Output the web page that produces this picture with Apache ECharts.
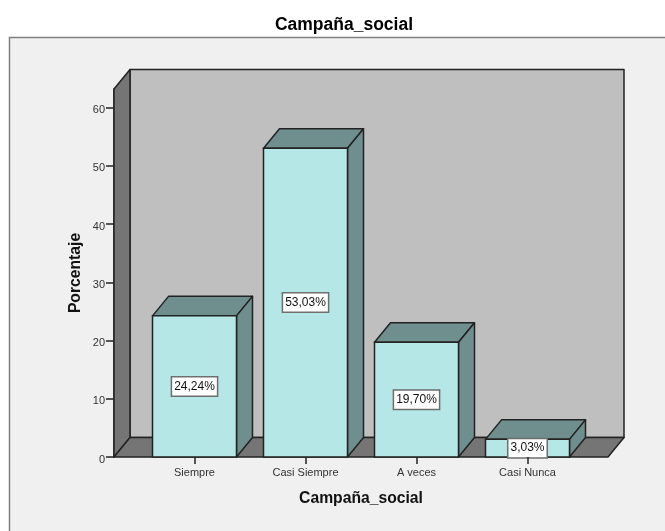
<!DOCTYPE html>
<html>
<head>
<meta charset="utf-8">
<style>html,body{margin:0;padding:0;background:#fff}#chart{width:665px;height:531px}</style>
<script src="https://cdn.jsdelivr.net/npm/echarts@6/dist/echarts.min.js"></script>
</head>
<body>
<div id="chart"></div>
<script>
// Bar chart of "Campaña_social" responses, drawn with a box-style depth effect.
const categories = ['Siempre', 'Casi Siempre', 'A veces', 'Casi Nunca'];
const percentages = [24.24, 53.03, 19.70, 3.03];
const valueTicks = [0, 10, 20, 30, 40, 50, 60];
const chartTitle = 'Campaña_social';
const valueAxisName = 'Porcentaje';

const DEPTH_X = 16, DEPTH_Y = 19.5;
const OVERHANG = 25;       // floor extends past the outer category bands
const BAR_WIDTH = 84;
const INK = '#222222';
const AXIS_MAX = 63.2;
const FONT = '"Liberation Sans", Arial, sans-serif';

const chart = echarts.init(document.getElementById('chart'), null, { renderer: 'canvas' });

const stroke = { stroke: INK, lineWidth: 1.5, lineJoin: 'round' };

function poly(points, fill) {
  return { type: 'polygon', shape: { points }, style: Object.assign({ fill }, stroke) };
}

// Back wall, side wall and floor of the plot box, sized from the grid rectangle.
function renderRoom(params, api) {
  const c = params.coordSys;
  const l = c.x - OVERHANG, r = c.x + c.width + OVERHANG, t = c.y, b = c.y + c.height;
  return {
    type: 'group',
    children: [
      poly([[l + DEPTH_X, t - DEPTH_Y], [r + DEPTH_X, t - DEPTH_Y], [r + DEPTH_X, b - DEPTH_Y], [l + DEPTH_X, b - DEPTH_Y]], '#bfbfbf'),
      poly([[l, t], [l + DEPTH_X, t - DEPTH_Y], [l + DEPTH_X, b - DEPTH_Y], [l, b]], '#757575'),
      poly([[l, b], [l + DEPTH_X, b - DEPTH_Y], [r + DEPTH_X, b - DEPTH_Y], [r, b]], '#757575')
    ]
  };
}

// One bar: front face, top face, side face, and its boxed percentage label.
function renderBar(params, api) {
  const top = api.coord([api.value(0), api.value(1)]);
  const base = api.coord([api.value(0), 0]);
  const x0 = top[0] - BAR_WIDTH / 2, x1 = top[0] + BAR_WIDTH / 2;
  const yT = top[1], yB = base[1];
  const text = api.value(1).toFixed(2).replace('.', ',') + '%';
  return {
    type: 'group',
    children: [
      poly([[x0, yT], [x0 + DEPTH_X, yT - DEPTH_Y], [x1 + DEPTH_X, yT - DEPTH_Y], [x1, yT]], '#6f8e8e'),
      poly([[x1, yT], [x1 + DEPTH_X, yT - DEPTH_Y], [x1 + DEPTH_X, yB - DEPTH_Y], [x1, yB]], '#6f8e8e'),
      { type: 'rect', shape: { x: x0, y: yT, width: BAR_WIDTH, height: yB - yT },
        style: { fill: '#b5e7e7', stroke: INK, lineWidth: 1.5 } },
      { type: 'text', x: top[0], y: (yT + yB) / 2,
        style: { text, fill: '#111', font: '12px ' + FONT,
          align: 'center', verticalAlign: 'middle',
          backgroundColor: '#ffffff', borderColor: '#6e6e6e', borderWidth: 1.5,
          padding: [3, 2, 3, 2] } }
    ]
  };
}

chart.setOption({
  animation: false,
  backgroundColor: '#ffffff',
  title: {
    text: chartTitle, left: 339, top: 11, textAlign: 'center',
    textStyle: { fontFamily: FONT, fontSize: 17.5, fontWeight: 'bold', color: '#000' }
  },
  graphic: [{
    type: 'rect', z: -10, silent: true,
    shape: { x: 9.5, y: 37.5, width: 670, height: 510 },
    style: { fill: '#f0f0f0', stroke: '#7f7f7f', lineWidth: 1.5 }
  }],
  grid: { left: 139, top: 89, width: 444, height: 368 },
  xAxis: {
    type: 'category', data: categories,
    name: chartTitle, nameLocation: 'middle', nameGap: 34, nameMoveOverlap: false,
    nameTextStyle: { fontFamily: FONT, fontSize: 15.7, fontWeight: 'bold', color: '#111' },
    axisTick: { show: true, alignWithLabel: true, length: 7, lineStyle: { color: INK, width: 1.5 } },
    axisLine: { show: false },
    axisLabel: { fontFamily: FONT, fontSize: 11, color: '#333', margin: 10 },
    z: 5
  },
  yAxis: {
    type: 'value', min: 0, max: AXIS_MAX, interval: 10, offset: OVERHANG,
    name: valueAxisName, nameLocation: 'middle', nameGap: 30, nameRotate: 90, nameMoveOverlap: false,
    nameTextStyle: { fontFamily: FONT, fontSize: 15.7, fontWeight: 'bold', color: '#111' },
    axisLine: { show: true, onZero: false, lineStyle: { color: INK, width: 1.5 } },
    axisTick: { show: true, length: 8, lineStyle: { color: INK, width: 1.5 } },
    axisLabel: {
      fontFamily: FONT, fontSize: 11, color: '#333', margin: 9,
      showMaxLabel: false, verticalAlign: 'top', lineHeight: 5,
      formatter: v => valueTicks.includes(v) ? String(v) : ''
    },
    splitLine: { show: false }
  },
  series: [
    { type: 'custom', z: 1, clip: false, silent: true, renderItem: renderRoom, data: [[0, 0]] },
    { type: 'custom', z: 2, clip: false, silent: true, renderItem: renderBar,
      encode: { x: 0, y: 1 },
      data: percentages.map((v, i) => [i, v]) }
  ]
});
</script>
</body>
</html>
